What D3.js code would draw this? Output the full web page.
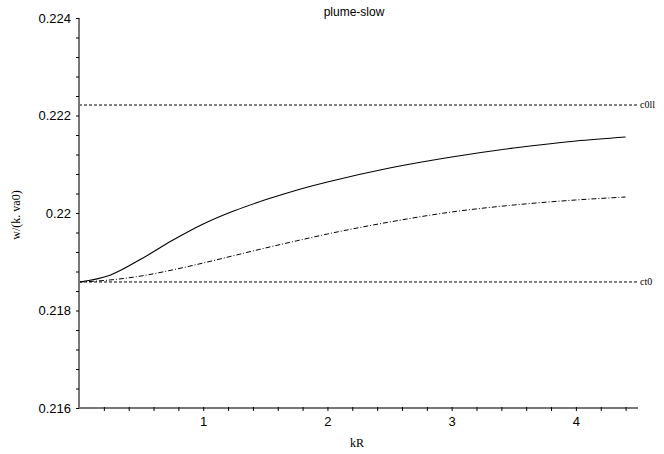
<!DOCTYPE html>
<html>
<head>
<meta charset="utf-8">
<script src="https://cdn.jsdelivr.net/npm/d3@7"></script>
<style>
  html, body { margin: 0; padding: 0; background: #fff; }
  svg { display: block; }
</style>
</head>
<body>
<svg id="chart" width="664" height="454"></svg>
<script>
// Phase speed w/(k va0) versus kR for the slow plume mode
const kR = [0, 0.25, 0.5, 0.75, 1.0, 1.25, 1.5, 1.75, 2.0, 2.5, 3.0, 3.5, 4.0, 4.4];
const solidW = [0.218585, 0.218725, 0.219055, 0.219435, 0.219774, 0.220045, 0.220270,
                0.220468, 0.220636, 0.220923, 0.221149, 0.221333, 0.221477, 0.221559];
const dashedW = [0.218585, 0.218626, 0.218708, 0.218831, 0.218974, 0.219128, 0.219282,
                 0.219428, 0.219569, 0.219815, 0.220021, 0.220164, 0.220267, 0.220328];
const c0ll = 0.222215;
const ct0 = 0.218585;
const xTicks = [1, 2, 3, 4];
const yTicks = [0.216, 0.218, 0.22, 0.222, 0.224];
const yTickLabels = ["0.216", "0.218", "0.22", "0.222", "0.224"];

const svg = d3.select("#chart");
const x = d3.scaleLinear().domain([0, 4.5]).range([79, 638]);
const y = d3.scaleLinear().domain([0.216, 0.224]).range([408, 18]);

// reference levels
const refs = [{v: c0ll, name: "c0ll"}, {v: ct0, name: "ct0"}];
svg.selectAll("line.ref").data(refs).enter().append("line")
  .attr("x1", x(0)).attr("x2", x(4.5))
  .attr("y1", d => y(d.v)).attr("y2", d => y(d.v))
  .attr("stroke", "#000").attr("stroke-width", 1)
  .attr("stroke-dasharray", "3,2");
svg.selectAll("text.ref").data(refs).enter().append("text")
  .attr("x", x(4.5) + 2).attr("y", d => y(d.v) + 3)
  .attr("font-family", "Liberation Serif, serif").attr("font-size", 10)
  .text(d => d.name);

// curves
const line = d3.line().x(d => x(d[0])).y(d => y(d[1])).curve(d3.curveMonotoneX);
svg.append("path").datum(kR.map((k, i) => [k, solidW[i]]))
  .attr("d", line).attr("fill", "none").attr("stroke", "#000").attr("stroke-width", 1.1);
svg.append("path").datum(kR.map((k, i) => [k, dashedW[i]]))
  .attr("d", line).attr("fill", "none").attr("stroke", "#000").attr("stroke-width", 1)
  .attr("stroke-dasharray", "5,2,1,2");

// axes
const xAxis = d3.axisBottom(x).tickValues(d3.range(0.2, 4.41, 0.2)).tickSize(3)
  .tickFormat(d => xTicks.some(t => Math.abs(t - d) < 1e-6) ? d3.format("d")(Math.round(d)) : "");
const gx = svg.append("g").attr("transform", `translate(0,${y(0.216)})`).call(xAxis);
gx.select(".domain").attr("stroke", "#777").attr("stroke-width", 2).attr("d", `M${x(0)},0H${x(4.5)}`);
gx.selectAll(".tick line").attr("stroke", "#000").attr("y1", -1);
gx.selectAll(".tick text").attr("font-family", "Liberation Sans, Arial, sans-serif")
  .attr("font-size", 13).attr("dy", "0.9em").attr("fill", "#000");

const yMinor = d3.range(0, 21).map(i => 0.216 + i * 0.0004);
const yAxis = d3.axisLeft(y).tickValues(yMinor).tickSize(3)
  .tickFormat(d => {
    const i = yTicks.findIndex(t => Math.abs(t - d) < 1e-9);
    return i >= 0 ? yTickLabels[i] : "";
  });
const gy = svg.append("g").attr("transform", `translate(${x(0)},0)`).call(yAxis);
gy.select(".domain").attr("stroke", "#777").attr("stroke-width", 2).attr("d", `M0,${y(0.216)}V${y(0.224)}`);
gy.selectAll(".tick line").attr("stroke", "#000");
gy.selectAll(".tick text").attr("font-family", "Liberation Sans, Arial, sans-serif")
  .attr("font-size", 13).attr("x", -8).attr("fill", "#000");

// titles
svg.append("text").attr("x", 354).attr("y", 16).attr("text-anchor", "middle")
  .attr("font-family", "Liberation Sans, Arial, sans-serif").attr("font-size", 12)
  .text("plume-slow");
svg.append("text").attr("x", 357).attr("y", 447).attr("text-anchor", "middle")
  .attr("font-family", "Liberation Serif, serif").attr("font-size", 12)
  .text("kR");
svg.append("text").attr("transform", "translate(20,215) rotate(-90)").attr("text-anchor", "middle")
  .attr("font-family", "Liberation Serif, serif").attr("font-size", 12)
  .text("w/(k. va0)");
</script>
</body>
</html>
